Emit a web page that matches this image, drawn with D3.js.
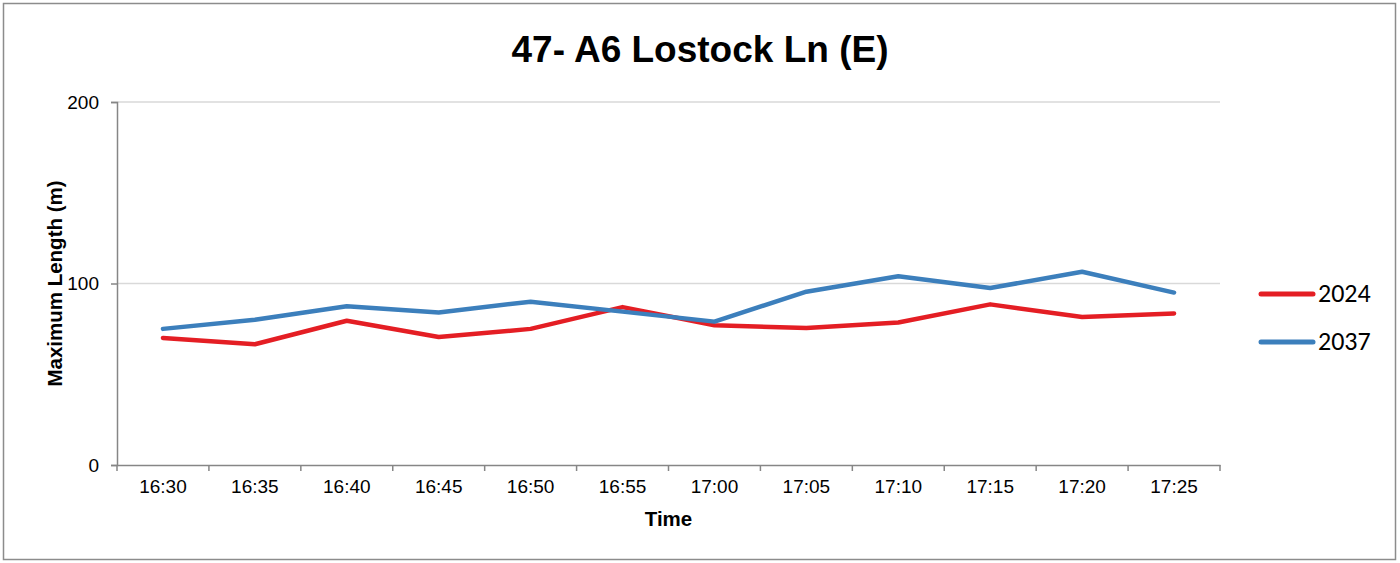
<!DOCTYPE html>
<html><head><meta charset="utf-8">
<script src="https://cdn.jsdelivr.net/npm/d3@7"></script>
<style>body{margin:0;background:#fff}svg{display:block}</style>
</head><body>
<svg id="chart" width="1400" height="563"></svg>
<script>
const categories = ["16:30","16:35","16:40","16:45","16:50","16:55","17:00","17:05","17:10","17:15","17:20","17:25"];
const series2024 = [70, 66.5, 79.5, 70.5, 75, 87, 77, 75.5, 78.5, 88.5, 81.5, 83.5];
const series2037 = [75, 80, 87.5, 84, 90, 84.5, 79, 95.5, 104, 97.5, 106.5, 95];
const yTicks = [0, 100, 200];
const seriesNames = ["2024", "2037"];
const seriesColors = ["#e41e24", "#3c7fbc"];

(function(){
const svg = d3.select("#chart");
svg.append("rect").attr("x",3.5).attr("y",3.5).attr("width",1392).attr("height",556)
  .attr("fill","#fff").attr("stroke","#8c8c8c").attr("stroke-width",1.5);

const mLeft = 117, mRight = 1220, mTop = 102, mBottom = 465;
const x = d3.scaleBand().domain(categories).range([mLeft, mRight]);
const y = d3.scaleLinear().domain([0, 200]).range([mBottom, mTop]);
const font = "Liberation Sans, Arial, sans-serif";

// gridlines
svg.append("g").selectAll("line").data(yTicks.filter(d=>d>0)).join("line")
  .attr("x1", mLeft).attr("x2", mRight).attr("y1", d=>y(d)).attr("y2", d=>y(d))
  .attr("stroke","#d9d9d9").attr("stroke-width",1.5);

// y axis
const yAxis = svg.append("g").attr("transform",`translate(${mLeft},0)`)
  .call(d3.axisLeft(y).tickValues(yTicks).tickSize(6).tickPadding(12));
yAxis.select(".domain").attr("stroke","#868686").attr("stroke-width",1.5);
yAxis.selectAll(".tick line").attr("stroke","#868686").attr("stroke-width",1.5);
yAxis.selectAll("text").attr("font-family",font).attr("font-size",19).attr("fill","#000");

// x axis
const xAxis = svg.append("g").attr("transform",`translate(0,${mBottom})`)
  .call(d3.axisBottom(x).tickSize(0).tickPadding(15));
xAxis.select(".domain").attr("stroke","#868686").attr("stroke-width",1.5);
xAxis.selectAll("text").attr("font-family",font).attr("font-size",19).attr("fill","#000");
const bounds = categories.map(c => x(c)).concat([x(categories[categories.length-1]) + x.bandwidth()]);
xAxis.append("g").selectAll("line").data(bounds).join("line")
  .attr("x1", d=>d).attr("x2", d=>d).attr("y1",0).attr("y2",6)
  .attr("stroke","#868686").attr("stroke-width",1.5);

// lines
const line = d3.line().x((d,i)=>x(categories[i]) + x.bandwidth()/2).y(d=>y(d));
[series2024, series2037].forEach((s,i)=>{
  svg.append("path").datum(s).attr("d", line).attr("fill","none")
    .attr("stroke", seriesColors[i]).attr("stroke-width",4.5)
    .attr("stroke-linejoin","round").attr("stroke-linecap","round");
});

// title
svg.append("text").attr("x",700).attr("y",62).attr("text-anchor","middle")
  .attr("font-family",font).attr("font-weight","bold").attr("font-size",37)
  .text("47- A6 Lostock Ln (E)");

// axis titles
svg.append("text").attr("transform",`translate(62,${(mTop+mBottom)/2}) rotate(-90)`).attr("text-anchor","middle")
  .attr("font-family",font).attr("font-weight","bold").attr("font-size",20.5)
  .text("Maximum Length (m)");
svg.append("text").attr("x",(mLeft+mRight)/2).attr("y",526).attr("text-anchor","middle")
  .attr("font-family",font).attr("font-weight","bold").attr("font-size",20.5)
  .text("Time");

// legend
const lg = svg.append("g");
seriesNames.forEach((n,i)=>{
  const yy = 294 + i*48;
  lg.append("line").attr("x1",1261).attr("x2",1313).attr("y1",yy).attr("y2",yy)
    .attr("stroke",seriesColors[i]).attr("stroke-width",5).attr("stroke-linecap","round");
  lg.append("text").attr("x",1318).attr("y",yy+8).attr("font-family","Carlito, Lato, sans-serif")
    .attr("font-size",26).attr("fill","#000").text(n);
});
})();
</script>
</body></html>
